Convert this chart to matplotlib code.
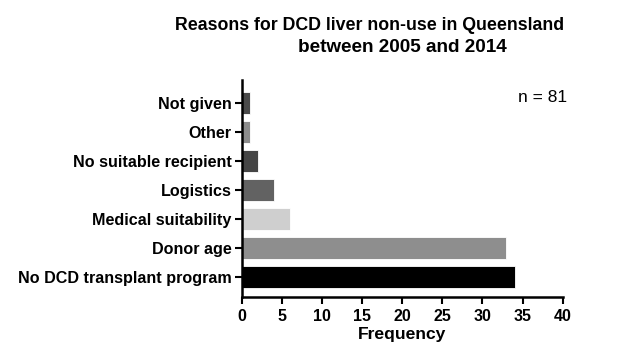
import matplotlib
matplotlib.use("Agg")
import matplotlib.pyplot as plt

categories = ["No DCD transplant program", "Donor age", "Medical suitability",
              "Logistics", "No suitable recipient", "Other", "Not given"]
values = [34, 33, 6, 4, 2, 1, 1]
colors = ["#000000", "#8e8e8e", "#cfcfcf", "#626262", "#454545", "#8c8c8c", "#4a4a4a"]
xticks = [0, 5, 10, 15, 20, 25, 30, 35, 40]

plt.rcParams['font.family'] = ['Liberation Sans', 'DejaVu Sans']

fig = plt.figure(figsize=(6.29, 3.46), dpi=100)
ax = fig.add_axes([0.384, 0.1425, 0.5106, 0.6265])

ypos = list(range(len(categories)))
ax.barh(ypos, values, height=0.75, color=colors, edgecolor="white", linewidth=0.6)

ax.set_xlim(0, 40)
ax.set_ylim(-0.68, 6.8)
ax.set_xticks(xticks)
ax.set_xticklabels([str(t) for t in xticks], fontsize=11.5, fontweight='bold')
ax.set_yticks(ypos)
ax.set_yticklabels(categories, fontsize=11.6, fontweight='bold')

for s in ['top', 'right']:
    ax.spines[s].set_visible(False)
for s in ['left', 'bottom']:
    ax.spines[s].set_linewidth(1.8)

ax.tick_params(axis='y', direction='out', length=5, width=1.5, pad=2)
ax.tick_params(axis='x', direction='out', length=5, width=1.5, pad=4)

ax.set_xlabel("Frequency", fontsize=12.6, fontweight='bold', labelpad=2)
fig.text(370 / 629, 1 - 25 / 346, "Reasons for DCD liver non-use in Queensland",
         ha='center', va='center', fontsize=12.8, fontweight='bold')
fig.text(402 / 629, 1 - 47 / 346, "between 2005 and 2014",
         ha='center', va='center', fontsize=13.6, fontweight='bold')
fig.text(567 / 629, 1 - 98 / 346, "n = 81", ha='right', va='center', fontsize=12.5)

fig.savefig("out.png", dpi=100)
